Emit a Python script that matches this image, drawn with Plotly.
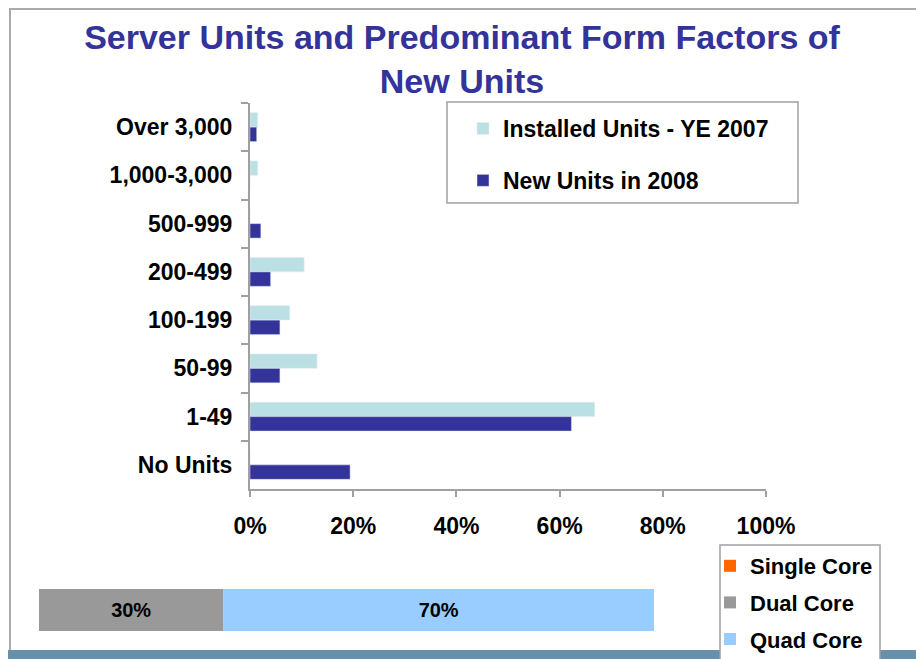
import plotly.graph_objects as go

# ---- data ----
categories = ["Over 3,000", "1,000-3,000", "500-999", "200-499", "100-199", "50-99", "1-49", "No Units"]
installed_ye2007 = [1.5, 1.5, 0, 10.5, 7.7, 13.0, 66.8, 0]
new_units_2008 = [1.3, 0, 2.1, 4.0, 5.8, 5.8, 62.3, 19.4]
x_tick_vals = [0, 20, 40, 60, 80, 100]
x_tick_text = ["0%", "20%", "40%", "60%", "80%", "100%"]

core_labels = ["Single Core", "Dual Core", "Quad Core"]
core_values = [0, 30, 70]
core_colors = ["#ff6600", "#999999", "#99ccff"]

# the page body has an 8px margin, so the figure is sized to fill the rest of the window
OFF = 8
W, H = 924 - OFF, 659 - OFF
FONT = "Liberation Sans, Arial, sans-serif"
GREY = "#a0a0a0"


def px_x(p):
    """window pixel x -> paper fraction"""
    return (p - OFF) / W


def px_y(p):
    """window pixel y (from top) -> paper fraction"""
    return 1 - (p - OFF) / H


fig = go.Figure()

fig.add_trace(go.Bar(
    y=categories, x=installed_ye2007, orientation="h",
    name="Installed Units - YE 2007", marker_color="#bbe0e3",
    legend="legend", legendgroup="a", xaxis="x", yaxis="y",
))
fig.add_trace(go.Bar(
    y=categories, x=new_units_2008, orientation="h",
    name="New Units in 2008", marker_color="#333399",
    legend="legend", legendgroup="b", xaxis="x", yaxis="y",
))

base = 0
for lab, val, col in zip(core_labels, core_values, core_colors):
    fig.add_trace(go.Bar(
        y=["cores"], x=[val], base=[base], orientation="h",
        width=1, offset=-0.5,
        name=lab, marker_color=col, marker_line_width=0,
        text=[f"{val}%" if val else ""], textposition="inside",
        insidetextanchor="middle",
        textfont=dict(family=FONT, size=20, color="black", weight="bold"),
        legend="legend2", legendgroup="c" + lab, xaxis="x2", yaxis="y2",
    ))
    base += val

fig.update_layout(
    width=W, height=H,
    margin=dict(l=0, r=0, t=0, b=0, autoexpand=False),
    paper_bgcolor="white", plot_bgcolor="white",
    barmode="group", bargap=0.40, bargroupgap=0,
    font=dict(family=FONT, size=23, color="black", weight="bold"),
    title=dict(
        text="Server Units and Predominant Form Factors of<br>New Units",
        x=(462 - OFF) / W, xanchor="center", xref="container",
        y=1 - 41 / H, yanchor="top", yref="container",
        font=dict(family=FONT, size=34, color="#333399", weight="bold"),
    ),
    xaxis=dict(
        domain=[px_x(250), px_x(766)], range=[0, 100],
        tickvals=x_tick_vals, ticktext=x_tick_text,
        showline=True, linecolor=GREY, linewidth=2,
        ticks="outside", ticklen=6, tickwidth=2, tickcolor=GREY,
        showgrid=False, zeroline=False, ticklabelstandoff=9,
        tickfont=dict(family=FONT, size=23, color="black", weight="bold"),
        anchor="y", automargin=False,
    ),
    yaxis=dict(
        domain=[px_y(489), px_y(103)], autorange="reversed",
        type="category",
        showline=True, linecolor=GREY, linewidth=2,
        ticks="outside", ticklen=7, tickwidth=2, tickcolor=GREY,
        tickson="boundaries", showgrid=False, zeroline=False,
        ticklabelstandoff=11,
        tickfont=dict(family=FONT, size=23, color="black", weight="bold"),
        anchor="x", automargin=False,
    ),
    xaxis2=dict(
        domain=[px_x(39), px_x(654)], range=[0, 100],
        visible=False, anchor="y2", automargin=False,
    ),
    yaxis2=dict(
        domain=[px_y(631), px_y(589)], range=[-0.5, 0.5],
        visible=False, anchor="x2", automargin=False,
    ),
    legend=dict(
        x=px_x(463), xanchor="left", y=px_y(107), yanchor="top",
        bgcolor="rgba(0,0,0,0)", borderwidth=0,
        tracegroupgap=19, traceorder="grouped",
        font=dict(family=FONT, size=23, color="black", weight="bold"),
    ),
    legend2=dict(
        x=px_x(710), xanchor="left", y=px_y(545), yanchor="top",
        bgcolor="rgba(0,0,0,0)", borderwidth=0,
        tracegroupgap=5, traceorder="grouped",
        font=dict(family=FONT, size=22, color="black", weight="bold"),
    ),
    shapes=[
        # outer slide border
        dict(type="rect", xref="paper", yref="paper",
             x0=px_x(10), x1=px_x(923), y0=-0.05, y1=px_y(9),
             line=dict(color="#aaaaaa", width=2), fillcolor="rgba(0,0,0,0)", layer="below"),
        # bottom band
        dict(type="rect", xref="paper", yref="paper",
             x0=0, x1=1, y0=-0.02, y1=px_y(650),
             line=dict(width=0), fillcolor="#6990aa", layer="below"),
        # legend 1 box
        dict(type="rect", xref="paper", yref="paper",
             x0=px_x(447), x1=px_x(798), y0=px_y(203), y1=px_y(102),
             line=dict(color="#a0a0a0", width=1.5), fillcolor="white", layer="below"),
        # legend 2 box
        dict(type="rect", xref="paper", yref="paper",
             x0=px_x(720), x1=px_x(880), y0=-0.05, y1=px_y(545),
             line=dict(color="#a0a0a0", width=1.5), fillcolor="white", layer="below"),
    ],
)

fig.write_html("out.html")
